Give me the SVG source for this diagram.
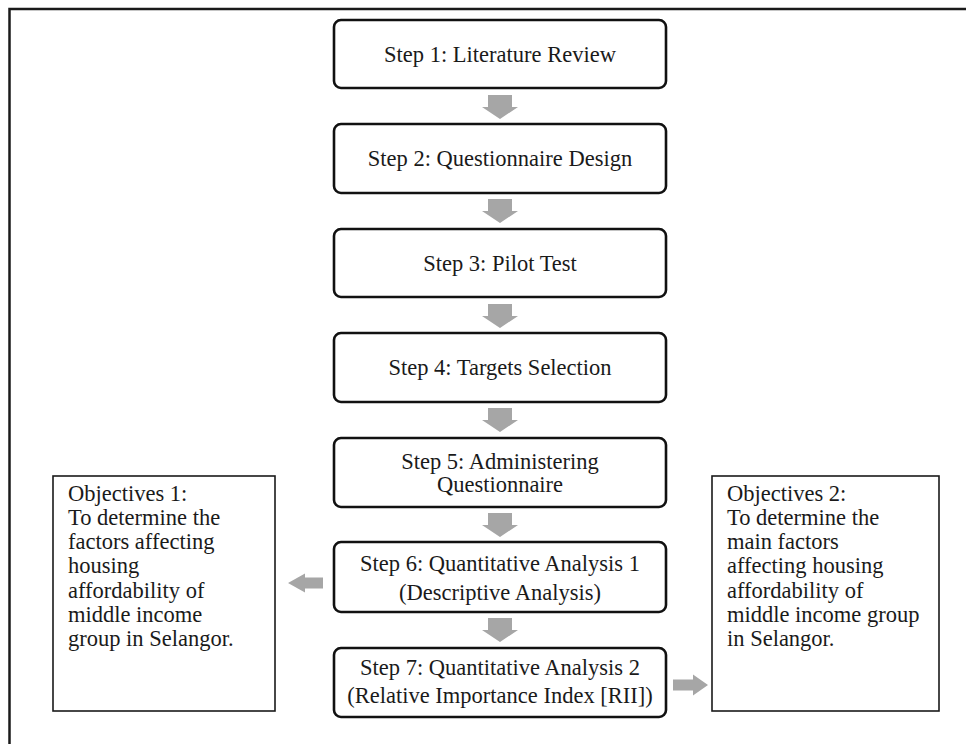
<svg xmlns="http://www.w3.org/2000/svg" width="966" height="744" viewBox="0 0 966 744">
<style>
.frame{fill:#fff;stroke:#1a1a1a;stroke-width:2.5}
.step{fill:#fff;stroke:#111;stroke-width:2.6}
.obj{fill:#fff;stroke:#1a1a1a;stroke-width:1.6}
.t{font-family:"Liberation Serif","Times New Roman",serif;font-size:22.5px;fill:#1a1a1a}
.c{text-anchor:middle}
.arr{fill:#a6a6a6}
</style>
<defs>
<path id="down" d="M-12,0 H12 V12 H18 L0,24 L-18,12 H-12 Z"/>
</defs>
<rect class="frame" x="9.5" y="9" width="990" height="780"/>
<g id="step1"><rect class="step" x="334" y="20" width="332" height="68" rx="7"/><text class="t c" x="500" y="62">Step 1: Literature Review</text></g>
<g id="step2"><rect class="step" x="334" y="124" width="332" height="69" rx="7"/><text class="t c" x="500" y="166">Step 2: Questionnaire Design</text></g>
<g id="step3"><rect class="step" x="334" y="229" width="332" height="68" rx="7"/><text class="t c" x="500" y="270.5">Step 3: Pilot Test</text></g>
<g id="step4"><rect class="step" x="334" y="333" width="332" height="69" rx="7"/><text class="t c" x="500" y="375">Step 4: Targets Selection</text></g>
<g id="step5"><rect class="step" x="334" y="438" width="332" height="69" rx="7"/><text class="t c" x="500" y="469">Step 5: Administering</text><text class="t c" x="500" y="492">Questionnaire</text></g>
<g id="step6"><rect class="step" x="334" y="542" width="332" height="70" rx="7"/><text class="t c" x="500" y="570.5">Step 6: Quantitative Analysis 1</text><text class="t c" x="500" y="599.5">(Descriptive Analysis)</text></g>
<g id="step7"><rect class="step" x="334" y="648" width="332" height="69" rx="7"/><text class="t c" x="500" y="674.5">Step 7: Quantitative Analysis 2</text><text class="t c" x="500" y="702.5">(Relative Importance Index [RII])</text></g>
<g id="objectives1"><rect class="obj" x="53" y="476" width="222" height="235"/>
<text class="t" x="68" y="500.5">Objectives 1:</text>
<text class="t" x="68" y="524.8">To determine the</text>
<text class="t" x="68" y="549.1">factors affecting</text>
<text class="t" x="68" y="573.4">housing</text>
<text class="t" x="68" y="597.7">affordability of</text>
<text class="t" x="68" y="622">middle income</text>
<text class="t" x="68" y="646.3">group in Selangor.</text>
</g>
<g id="objectives2"><rect class="obj" x="712" y="476" width="227" height="235"/>
<text class="t" x="727" y="500.5">Objectives 2:</text>
<text class="t" x="727" y="524.8">To determine the</text>
<text class="t" x="727" y="549.1">main factors</text>
<text class="t" x="727" y="573.4">affecting housing</text>
<text class="t" x="727" y="597.7">affordability of</text>
<text class="t" x="727" y="622">middle income group</text>
<text class="t" x="727" y="646.3">in Selangor.</text>
</g>
<g id="connectors" class="arr">
<use href="#down" transform="translate(500,95)"/>
<use href="#down" transform="translate(500,199)"/>
<use href="#down" transform="translate(500,304)"/>
<use href="#down" transform="translate(500,408)"/>
<use href="#down" transform="translate(500,513)"/>
<use href="#down" transform="translate(500,618)"/>
<path d="M323,577.5 H305 V573.5 L288,583 L305,592.5 V588.5 H323 Z"/>
<path d="M673,679.5 H693 V674.5 L708,685 L693,695.5 V690.5 H673 Z"/>
</g>
</svg>
